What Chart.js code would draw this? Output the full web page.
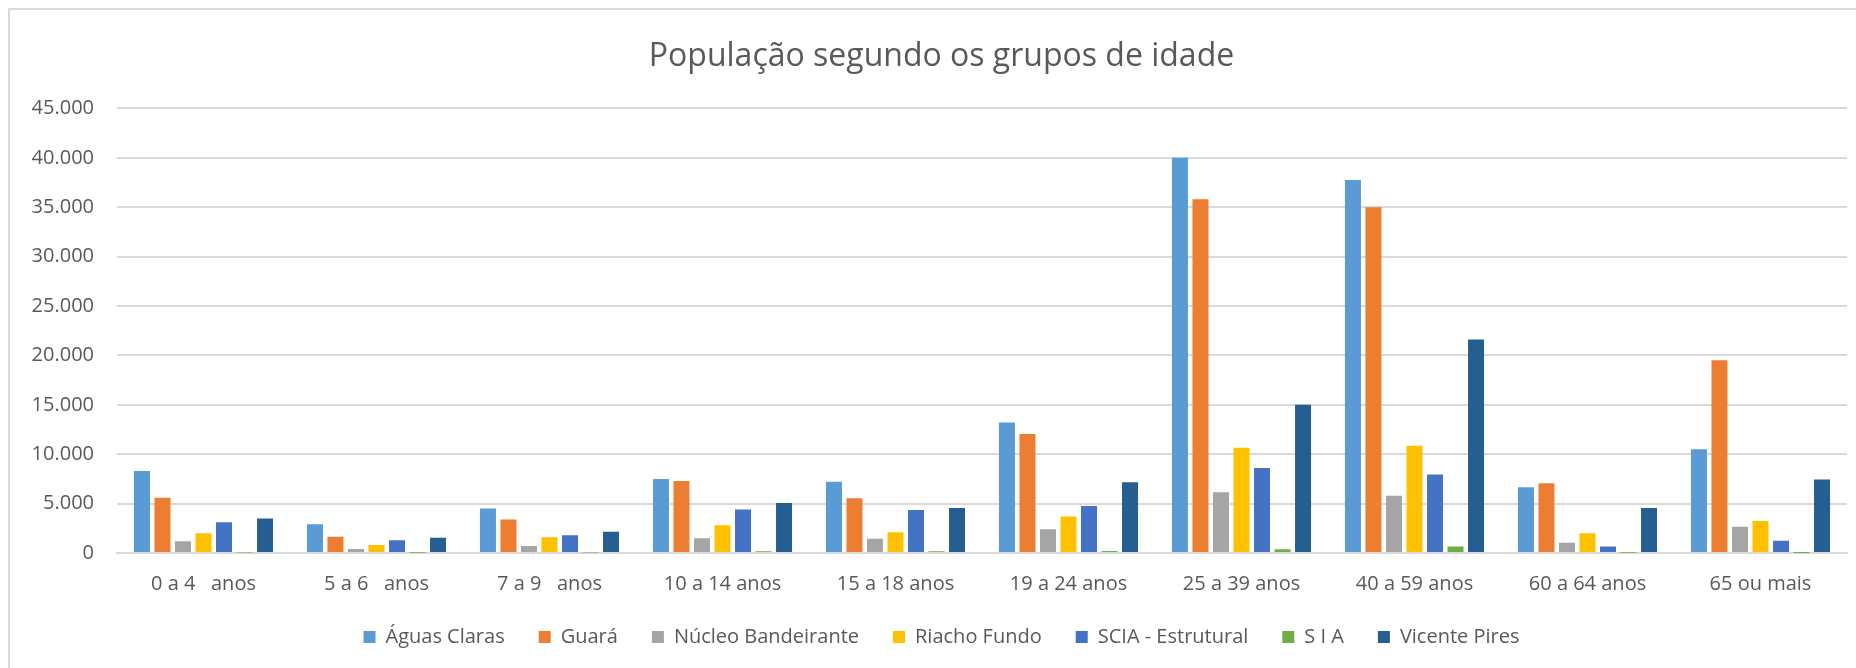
<!DOCTYPE html>
<html>
<head>
<meta charset="utf-8">
<script src="https://cdn.jsdelivr.net/npm/chart.js@4.4.0/dist/chart.umd.min.js"></script>
<style>
  html, body { margin: 0; padding: 0; background: #fff; overflow: hidden; }
  #moldura { position: absolute; left: 8px; top: 8px; width: 1900px; height: 700px;
             border-left: 2px solid #d9d9d9; border-top: 2px solid #d9d9d9; }
  #grafico { position: absolute; left: 0; top: 0; }
</style>
</head>
<body>
<div id="moldura"><canvas id="grafico" width="1863" height="660"></canvas></div>
<script>
// grupos de idade
const grupos = ['0 a 4   anos', '5 a 6   anos', '7 a 9   anos', '10 a 14 anos', '15 a 18 anos',
                '19 a 24 anos', '25 a 39 anos', '40 a 59 anos', '60 a 64 anos', '65 ou mais'];

// populacao por regiao
const aguasClaras = [8300, 2900, 4500, 7500, 7200, 13200, 40000, 37750, 6650, 10500];
const guara       = [5600, 1650, 3400, 7300, 5550, 12050, 35800, 35000, 7050, 19500];
const nucleoBand  = [1200, 400, 700, 1500, 1450, 2400, 6150, 5800, 1050, 2650];
const riachoFundo = [2000, 800, 1600, 2800, 2100, 3700, 10650, 10850, 2000, 3250];
const sciaEstrut  = [3100, 1300, 1800, 4400, 4350, 4750, 8600, 7950, 650, 1250];
const sia         = [50, 30, 40, 170, 170, 200, 380, 650, 20, 10];
const vicentePires= [3500, 1550, 2150, 5050, 4550, 7150, 15000, 21600, 4550, 7450];

const regioes = ['Águas Claras', 'Guará', 'Núcleo Bandeirante', 'Riacho Fundo', 'SCIA - Estrutural', 'S I A', 'Vicente Pires'];
const cores = ['#5B9BD5', '#ED7D31', '#A5A5A5', '#FFC000', '#4472C4', '#70AD47', '#255E91'];
const series = [aguasClaras, guara, nucleoBand, riachoFundo, sciaEstrut, sia, vicentePires];

const fonte = "'Open Sans', sans-serif";
const cinza = '#595959';

const formata = v => String(v).replace(/\B(?=(\d{3})+(?!\d))/g, '.');

let ctx = document.getElementById('grafico').getContext('2d');
var chart = new Chart(ctx, {
  type: 'bar',
  data: {
    labels: grupos,
    datasets: series.map((s, i) => ({
      label: regioes[i],
      data: s,
      backgroundColor: cores[i],
      borderWidth: 0,
      categoryPercentage: 0.83,
      barPercentage: 0.78
    }))
  },
  options: {
    responsive: false,
    animation: false,
    layout: { padding: { left: 0, right: 0, top: 0, bottom: 13 } },
    plugins: {
      title: {
        display: true,
        text: 'População segundo os grupos de idade',
        color: cinza,
        font: { family: fonte, size: 32, weight: 'normal' },
        padding: { top: 28, bottom: 32 }
      },
      legend: {
        position: 'bottom',
        labels: {
          color: cinza,
          font: { family: fonte, size: 20 },
          boxWidth: 12,
          boxHeight: 12,
          padding: 34
        }
      },
      tooltip: { enabled: false }
    },
    scales: {
      x: {
        grid: { display: false, drawTicks: false },
        border: { color: '#d9d9d9', width: 2 },
        ticks: { color: cinza, font: { family: fonte, size: 20 }, padding: 19, maxRotation: 0, autoSkip: false },
        afterFit: s => { s.height = 40; }
      },
      y: {
        min: 0,
        max: 45000,
        grid: { color: '#d9d9d9', lineWidth: 2, drawTicks: false },
        border: { display: false },
        ticks: { stepSize: 5000, color: cinza, font: { family: fonte, size: 20 }, padding: 23,
                 callback: v => formata(v) },
        afterFit: s => { s.width = 107; }
      },
      // margem direita da area do grafico
      margem: {
        position: 'right',
        grid: { display: false, drawTicks: false },
        border: { display: false },
        ticks: { display: false },
        afterFit: s => { s.width = 26; }
      }
    }
  }
});
</script>
</body>
</html>
